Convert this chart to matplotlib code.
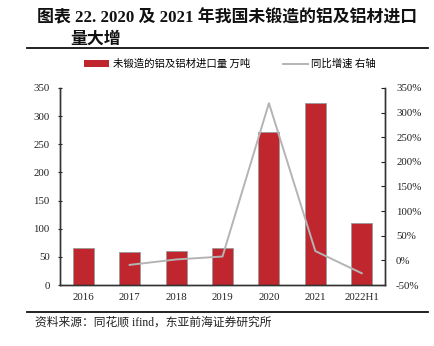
import matplotlib
matplotlib.use("Agg")
import matplotlib.pyplot as plt
from matplotlib.lines import Line2D
from matplotlib.patches import Patch
from matplotlib.ticker import FuncFormatter, MultipleLocator

plt.rcParams['font.family'] = ['Liberation Serif', 'Noto Sans CJK SC', 'DejaVu Sans']

categories = ['2016', '2017', '2018', '2019', '2020', '2021', '2022H1']
imports = [65, 59, 60, 65, 271, 323, 110]            # 万吨
yoy_categories = ['2017', '2018', '2019', '2020', '2021', '2022H1']
yoy_growth = [-9, 2, 8, 319, 19, -26]                 # %

title_line1 = '图表 22. 2020 及 2021 年我国未锻造的铝及铝材进口'
title_line2 = '量大增'
bar_label = '未锻造的铝及铝材进口量 万吨'
line_label = '同比增速 右轴'
source_text = '资料来源：同花顺 ifind，东亚前海证券研究所'

bar_color = '#C0262D'
line_color = '#B4B4B4'
axis_color = '#333333'

fig = plt.figure(figsize=(4.35, 3.46), dpi=100)
ax = fig.add_axes([0.138, 0.176, 0.747, 0.570])

x = list(range(len(categories)))
ax.bar(x, imports, width=0.45, color=bar_color, edgecolor='#9A9A9A', linewidth=0.6, zorder=2)
ax.set_xlim(-0.5, len(categories) - 0.5)
ax.set_ylim(0, 350)
ax.yaxis.set_major_locator(MultipleLocator(50))
ax.set_xticks(x)
ax.set_xticklabels(categories)

ax2 = ax.twinx()
yoy_x = [categories.index(c) for c in yoy_categories]
ax2.plot(yoy_x, yoy_growth, color=line_color, linewidth=1.4, zorder=3)
ax2.set_ylim(-50, 350)
ax2.yaxis.set_major_locator(MultipleLocator(50))
ax2.yaxis.set_major_formatter(FuncFormatter(lambda v, p: f'{v:.0f}%'))

for a in (ax, ax2):
    a.spines['top'].set_visible(False)
    for s in ('left', 'right', 'bottom'):
        a.spines[s].set_color(axis_color)
        a.spines[s].set_linewidth(1.0)
    a.tick_params(axis='both', labelsize=7.8, colors='#222222', length=3, width=0.8)
ax.tick_params(axis='x', length=0, pad=6)
ax.tick_params(axis='y', direction='inout', pad=6)
ax2.tick_params(axis='y', direction='in', pad=8)

# Title block
title_font = ['Liberation Serif', 'Noto Sans CJK SC']
fig.text(0.085, 0.948, title_line1, fontsize=12.2, fontweight='bold', family=title_font,
         va='center', ha='left', color='#111111')
fig.text(0.161, 0.884, title_line2, fontsize=12.2, fontweight='bold', family=title_font,
         va='center', ha='left', color='#111111')
fig.add_artist(Line2D([0.062, 0.984], [0.861, 0.861], color='#111111', linewidth=1.3,
                      transform=fig.transFigure))

# Legend
handles = [Patch(facecolor=bar_color, edgecolor='none'),
           Line2D([0], [0], color=line_color, linewidth=1.4)]
fig.legend(handles, [bar_label, line_label], loc='center', bbox_to_anchor=(0.529, 0.815),
           ncol=2, frameon=False, handlelength=2.4, handleheight=0.7,
           handletextpad=0.3, columnspacing=3.2,
           prop={'family': ['Noto Sans CJK SC'], 'size': 7.5})

# Source note
fig.add_artist(Line2D([0.062, 0.984], [0.098, 0.098], color='#111111', linewidth=1.3,
                      transform=fig.transFigure))
fig.text(0.08, 0.069, source_text, fontsize=8.5, family=['Liberation Serif', 'Noto Sans CJK SC'],
         va='center', ha='left', color='#222222')

fig.savefig('out.png', dpi=100)
